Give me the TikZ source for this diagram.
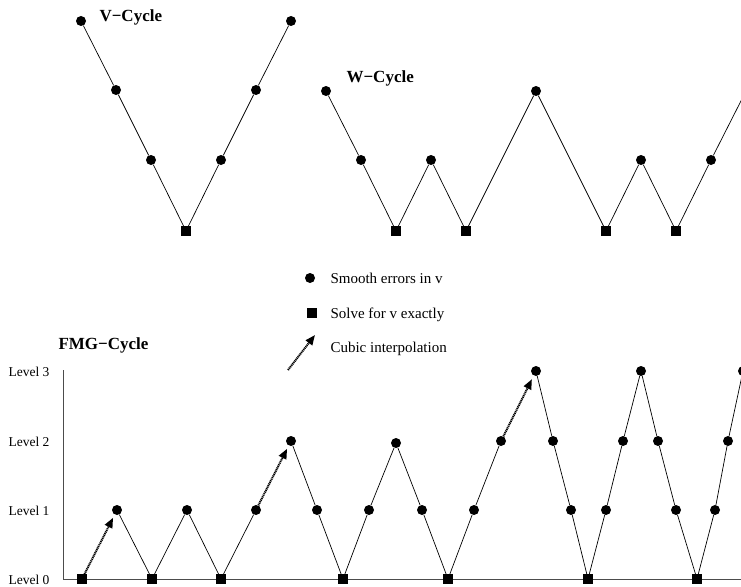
\documentclass[tikz,border=0pt]{standalone}
\usepackage{fontspec}
\setmainfont{Liberation Serif}
\usetikzlibrary{arrows.meta}
\tikzset{
  dot/.style={circle,fill=black,inner sep=0pt,minimum size=10pt},
  sq/.style={rectangle,fill=black,inner sep=0pt,minimum size=9.5pt},
  seg/.style={line width=0.7pt},
  axisline/.style={line width=0.9pt,black!70},
  interp/.style={line width=2pt,dash pattern=on 1.1pt off 0.7pt,
    -{Triangle[length=10pt,width=8pt]}},
  lvl/.style={anchor=base east,font=\fontsize{13.5}{16}\selectfont},
  ttl/.style={anchor=base west,font=\bfseries\fontsize{17}{20}\selectfont},
  leg/.style={anchor=base west,font=\fontsize{15}{18}\selectfont}
}
\begin{document}
\begin{tikzpicture}[x=1pt,y=-1pt]
\useasboundingbox (0,0) rectangle (741,586);
\clip (0,0) rectangle (741,586);
% ---------- V-cycle ----------
\node[ttl] (vt) at (96,22) {V−Cycle};
\node[dot] (v1) at (81,21) {};
\node[dot] (v2) at (116,90) {};
\node[dot] (v3) at (151,160) {};
\node[sq]  (v4) at (186,231) {};
\node[dot] (v5) at (221,160) {};
\node[dot] (v6) at (256,90) {};
\node[dot] (v7) at (291,21) {};
\draw[seg] (v1)--(v2)--(v3)--(v4)--(v5)--(v6)--(v7);
% ---------- W-cycle ----------
\node[ttl] (wt) at (343,82) {W−Cycle};
\node[dot] (w1) at (326,91) {};
\node[dot] (w2) at (361,160) {};
\node[sq]  (w3) at (396,231) {};
\node[dot] (w4) at (431,160) {};
\node[sq]  (w5) at (466,231) {};
\node[dot] (w6) at (536,91) {};
\node[sq]  (w7) at (606,231) {};
\node[dot] (w8) at (641,160) {};
\node[sq]  (w9) at (676,231) {};
\node[dot] (w10) at (711,160) {};
\node[dot] (w11) at (746,91) {};
\draw[seg] (w1)--(w2)--(w3)--(w4)--(w5)--(w6)--(w7)--(w8)--(w9)--(w10)--(w11);
% ---------- legend ----------
\node[dot] (ld) at (310,278) {};
\node[leg] (ldt) at (327,283) {Smooth errors in v};
\node[sq]  (ls) at (312,313) {};
\node[leg] (lst) at (327,318) {Solve for v exactly};
\coordinate (la1) at (288,370);
\coordinate (la2) at (315,335);
\draw[interp] (la1) -- (la2);
\node[leg] (lat) at (327,352) {Cubic interpolation};
% ---------- FMG-cycle ----------
\node[ttl] (ft) at (55,349) {FMG−Cycle};
\node[lvl] (l3) at (53,376.5) {Level 3};
\node[lvl] (l2) at (53,446.5) {Level 2};
\node[lvl] (l1) at (53,515.5) {Level 1};
\node[lvl] (l0) at (53,584.5) {Level 0};
\coordinate (ax3) at (63,370);
\coordinate (ax0) at (63,579);
\coordinate (axe) at (745,579);
\draw[axisline] (ax3) -- (ax0) -- (axe);
\node[sq]  (f1) at (82,579) {};
\node[dot] (f2) at (117,510) {};
\node[sq]  (f3) at (152,579) {};
\node[dot] (f4) at (187,510) {};
\node[sq]  (f5) at (221,579) {};
\node[dot] (f6) at (256,510) {};
\node[dot] (f7) at (291,441) {};
\node[dot] (f8) at (317,510) {};
\node[sq]  (f9) at (343,579) {};
\node[dot] (f10) at (369,510) {};
\node[dot] (f11) at (396,443) {};
\node[dot] (f12) at (422,510) {};
\node[sq]  (f13) at (448,579) {};
\node[dot] (f14) at (474,510) {};
\node[dot] (f15) at (501,441) {};
\node[dot] (f16) at (536,371) {};
\node[dot] (f17) at (553,441) {};
\node[dot] (f18) at (571,510) {};
\node[sq]  (f19) at (588,579) {};
\node[dot] (f20) at (606,510) {};
\node[dot] (f21) at (623,441) {};
\node[dot] (f22) at (641,371) {};
\node[dot] (f23) at (658,441) {};
\node[dot] (f24) at (676,510) {};
\node[sq]  (f25) at (697,579) {};
\node[dot] (f26) at (715,510) {};
\node[dot] (f27) at (728,441) {};
\node[dot] (f28) at (743,371) {};
\draw[seg] (f2)--(f3)--(f4)--(f5)--(f6);
\draw[seg] (f7)--(f8)--(f9)--(f10)--(f11)--(f12)--(f13)--(f14)--(f15);
\draw[seg] (f16)--(f17)--(f18)--(f19)--(f20)--(f21)--(f22)--(f23)--(f24)--(f25)--(f26)--(f27)--(f28);
\draw[interp,shorten >=3.5pt] (f1.center) -- (f2);
\draw[interp,shorten >=3.5pt] (f6) -- (f7);
\draw[interp,shorten >=4pt] (f15) -- (f16);
\end{tikzpicture}
\end{document}
